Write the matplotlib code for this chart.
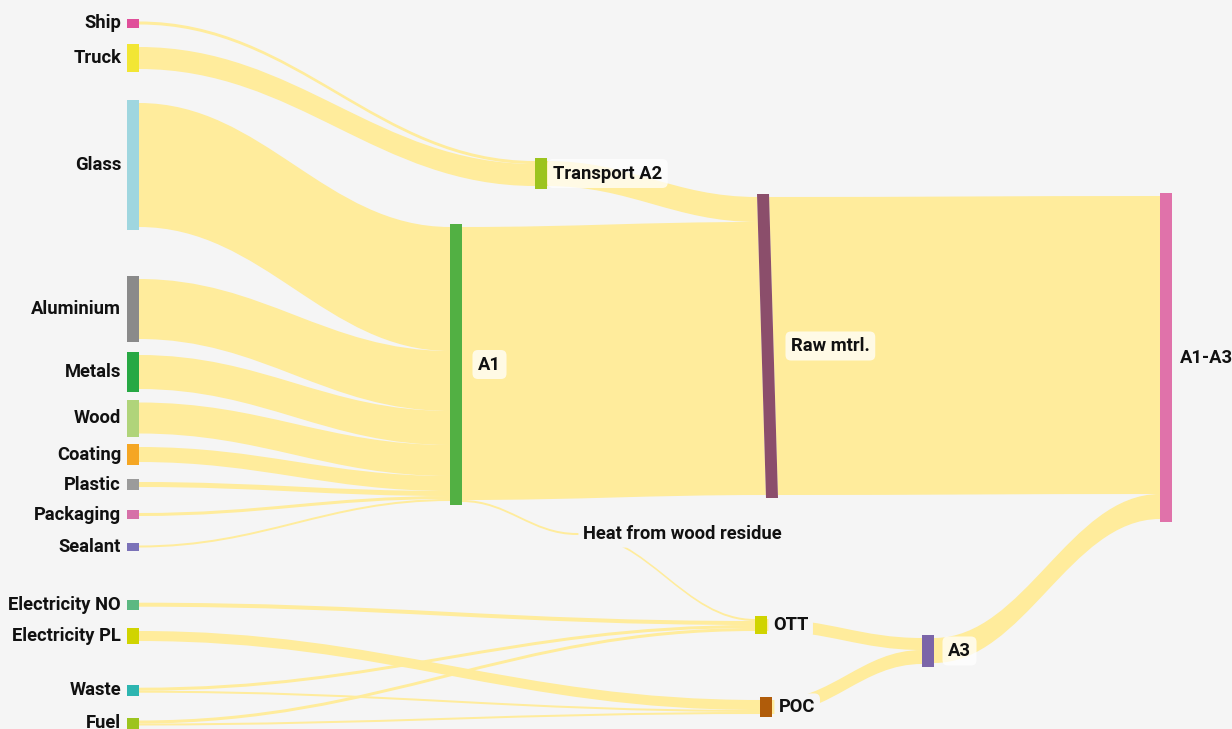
import matplotlib.pyplot as plt
from matplotlib.path import Path
from matplotlib.patches import PathPatch, Polygon

# Nodes and colours
nodes = ["Ship", "Truck", "Glass", "Aluminium", "Metals", "Wood", "Coating",
         "Plastic", "Packaging", "Sealant", "Electricity NO", "Electricity PL",
         "Waste", "Fuel", "Transport A2", "A1", "Heat from wood residue",
         "Raw mtrl.", "OTT", "POC", "A3", "A1-A3"]
node_colors = ["#e04f9a", "#f2e634", "#9fd6df", "#8a8a8a", "#27a844", "#b0d47a",
               "#f5a623", "#9b9b9b", "#d670a8", "#7b72b8", "#5cb882", "#d0d400",
               "#2db5b0", "#9cc41e", "#9cc41e", "#52b043", None,
               "#8b4e6b", "#d0d400", "#b05c0a", "#7b65a8", "#e072aa"]

# Flows
link_source = ["Ship", "Truck", "Transport A2", "Glass", "Aluminium", "Metals",
               "Wood", "Coating", "Plastic", "Packaging", "Sealant", "A1", "A1",
               "Heat from wood residue", "Electricity NO", "Electricity PL",
               "Waste", "Waste", "Fuel", "Fuel", "OTT", "POC", "Raw mtrl.", "A3"]
link_target = ["Transport A2", "Transport A2", "Raw mtrl.", "A1", "A1", "A1",
               "A1", "A1", "A1", "A1", "A1", "Raw mtrl.", "Heat from wood residue",
               "OTT", "OTT", "POC", "OTT", "POC", "OTT", "POC", "A3", "A3",
               "A1-A3", "A1-A3"]
link_value = [3, 22, 25, 124, 60, 34, 31, 15, 5, 3, 2, 273, 2,
              2, 4, 10, 3, 2, 3, 2, 12, 14, 298, 25]

# layout (pixels, y from top)
node_x = {n: 127 for n in nodes[:14]}
node_x.update({"Transport A2": 535, "A1": 450, "Heat from wood residue": 577,
               "Raw mtrl.": 757, "OTT": 755, "POC": 760, "A3": 922, "A1-A3": 1160})
node_top = {"Ship": 21.5, "Truck": 47, "Glass": 103, "Aluminium": 279, "Metals": 355,
            "Wood": 402.5, "Coating": 447, "Plastic": 482, "Packaging": 513,
            "Sealant": 545.5, "Electricity NO": 602.7, "Electricity PL": 631,
            "Waste": 687.7, "Fuel": 720.5, "Transport A2": 161, "A1": 227,
            "Heat from wood residue": 533, "Raw mtrl.": 197, "OTT": 619,
            "POC": 700, "A3": 638, "A1-A3": 196}
node_skew = {"Raw mtrl.": 9}
label_x = {"Transport A2": 553, "A1": 478, "Raw mtrl.": 791, "A1-A3": 1180,
           "OTT": 773, "POC": 779, "A3": 948, "Heat from wood residue": 583}
NW = 12
PAD = 3
CURVE = 0.4
LINK_COLOR = "#ffec9c"
BG = "#f5f5f5"

# node values
val = {}
for n in nodes:
    vin = sum(v for s, t, v in zip(link_source, link_target, link_value) if t == n)
    vout = sum(v for s, t, v in zip(link_source, link_target, link_value) if s == n)
    val[n] = max(vin, vout)


def left_x(n, y):
    sk = node_skew.get(n, 0)
    h = val[n] + 2 * PAD
    return node_x[n] + sk * (y - (node_top[n] - PAD)) / h


fig = plt.figure(figsize=(12.32, 7.29), dpi=100, facecolor=BG)
ax = fig.add_axes([0, 0, 1, 1])
ax.set_facecolor(BG)
ax.set_xlim(0, 1232)
ax.set_ylim(729, 0)
ax.axis("off")

# stack links
links = list(zip(link_source, link_target, link_value))
out_off = {n: 0 for n in nodes}
in_off = {n: 0 for n in nodes}
out_pos = {}
in_pos = {}
for n in nodes:
    outs = sorted([i for i, l in enumerate(links) if l[0] == n], key=lambda i: node_top[links[i][1]])
    for i in outs:
        out_pos[i] = node_top[n] + out_off[n]
        out_off[n] += links[i][2]
    ins = sorted([i for i, l in enumerate(links) if l[1] == n], key=lambda i: node_top[links[i][0]])
    for i in ins:
        in_pos[i] = node_top[n] + in_off[n]
        in_off[n] += links[i][2]

for i, (s, t, v) in enumerate(links):
    y0, y1 = out_pos[i], in_pos[i]
    x0a = left_x(s, y0) + (NW if node_colors[nodes.index(s)] else 0)
    x0b = left_x(s, y0 + v) + (NW if node_colors[nodes.index(s)] else 0)
    x1a = left_x(t, y1)
    x1b = left_x(t, y1 + v)
    c = (x1a - x0a) * CURVE
    verts = [(x0a, y0), (x0a + c, y0), (x1a - c, y1), (x1a, y1),
             (x1b, y1 + v), (x1b - c, y1 + v), (x0b + c, y0 + v), (x0b, y0 + v),
             (x0a, y0)]
    codes = [Path.MOVETO, Path.CURVE4, Path.CURVE4, Path.CURVE4,
             Path.LINETO, Path.CURVE4, Path.CURVE4, Path.CURVE4, Path.CLOSEPOLY]
    ax.add_patch(PathPatch(Path(verts, codes), fc=LINK_COLOR, ec="none", zorder=1))

# nodes
for n, col in zip(nodes, node_colors):
    if col is None:
        continue
    top = node_top[n] - PAD
    bot = node_top[n] + val[n] + PAD
    sk = node_skew.get(n, 0)
    x = node_x[n]
    ax.add_patch(Polygon([(x, top), (x + NW, top), (x + NW + sk, bot), (x + sk, bot)],
                         closed=True, fc=col, ec="none", zorder=2))

# labels
font = dict(family=["Roboto", "DejaVu Sans"], fontsize=13.2, fontweight="bold",
            color="#111111")
for n in nodes:
    cy = node_top[n] + val[n] / 2
    if n in label_x:
        if n in ("OTT", "POC", "Heat from wood residue"):
            box = dict(boxstyle="round,pad=0.25,rounding_size=0.3", fc=BG, ec="none")
        elif n == "A1-A3":
            box = None
        else:
            box = dict(boxstyle="round,pad=0.3,rounding_size=0.3", fc="white",
                       ec="none", alpha=0.75)
        ax.text(label_x[n], cy, n, ha="left", va="center", bbox=box, zorder=3, **font)
    else:
        ax.text(node_x[n] - 6, cy, n, ha="right", va="center", zorder=3, **font)

fig.savefig("out.png", dpi=100, facecolor=BG)
